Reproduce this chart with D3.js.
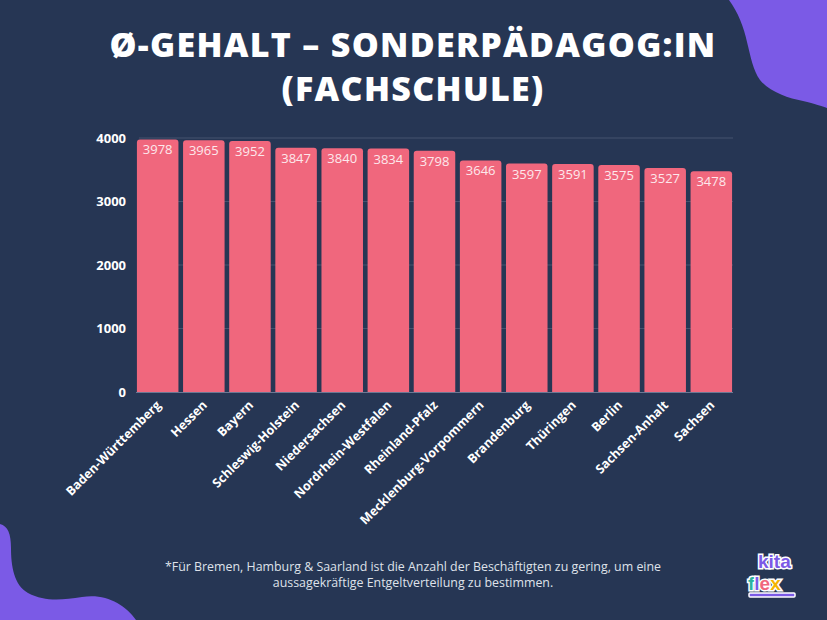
<!DOCTYPE html>
<html><head><meta charset="utf-8">
<script src="https://cdn.jsdelivr.net/npm/d3@7"></script>
<style>html,body{margin:0;padding:0;background:#263654;}svg{display:block}</style>
</head><body>
<svg id="chart" width="827" height="620"></svg>
<script>
const categories = ["Baden-Württemberg","Hessen","Bayern","Schleswig-Holstein","Niedersachsen","Nordrhein-Westfalen","Rheinland-Pfalz","Mecklenburg-Vorpommern","Brandenburg","Thüringen","Berlin","Sachsen-Anhalt","Sachsen"];
const values = [3978,3965,3952,3847,3840,3834,3798,3646,3597,3591,3575,3527,3478];
const yTicks = [0,1000,2000,3000,4000];
const titleLines = ["Ø-GEHALT – SONDERPÄDAGOG:IN","(FACHSCHULE)"];
const footnoteLines = ["*Für Bremen, Hamburg & Saarland ist die Anzahl der Beschäftigten zu gering, um eine","aussagekräftige Entgeltverteilung zu bestimmen."];

const W = 827, H = 620;
const svg = d3.select("#chart");
const bg = "#263654", purple = "#7b5ae6", barColor = "#f0677d";
svg.append("rect").attr("width", W).attr("height", H).attr("fill", bg);

// decorative blobs
svg.append("path").attr("fill", purple)
  .attr("d", "M729,0 C738,12 744,28 747,42 C751,58 753,70 760,80 C770,92 788,98 803,101 C815,104 822,106 827,108 L827,0 Z");
svg.append("path").attr("fill", purple)
  .attr("d", "M0,524 C8,526 11,534 11,548 C11,566 14,585 28,593 C45,602 62,600 82,597 C105,593 125,604 136,620 L0,620 Z");

// title
const titleFont = "'Open Sans', sans-serif";
svg.selectAll("text.title").data(titleLines).join("text")
  .attr("class","title")
  .attr("x", 413).attr("y", (d,i)=> 57 + i*44)
  .attr("text-anchor","middle")
  .attr("fill","#ffffff")
  .style("font-family", titleFont).style("font-weight", 800).style("font-size","34px")
  .style("letter-spacing","1.3px")
  .text(d=>d);

const m = {left:136, right:733, top:138, bottom:392};
const x = d3.scaleBand().domain(categories).range([m.left, m.right]).paddingInner(0.1).paddingOuter(0.02);
const y = d3.scaleLinear().domain([0,4000]).range([m.bottom, m.top]);

// gridlines
svg.append("g").selectAll("line").data(yTicks.filter(t=>t>0)).join("line")
  .attr("x1", m.left+3).attr("x2", m.right)
  .attr("y1", d=>y(d)).attr("y2", d=>y(d))
  .attr("stroke","#44536f").attr("stroke-width",1);

// bars with rounded top corners
const r = 3;
svg.append("g").selectAll("path").data(values).join("path")
  .attr("fill", barColor)
  .attr("d", (d,i)=>{
    const x0 = x(categories[i]), w = x.bandwidth(), y0 = y(d), yb = y(0);
    return `M${x0},${yb} L${x0},${y0+r} Q${x0},${y0} ${x0+r},${y0} L${x0+w-r},${y0} Q${x0+w},${y0} ${x0+w},${y0+r} L${x0+w},${yb} Z`;
  });

// baseline
svg.append("line").attr("x1", m.left).attr("x2", m.right)
  .attr("y1", y(0)+0.5).attr("y2", y(0)+0.5).attr("stroke","#6b7894").attr("stroke-width",1);

// value labels
svg.append("g").selectAll("text").data(values).join("text")
  .attr("x",(d,i)=>x(categories[i])+x.bandwidth()/2)
  .attr("y", d=>y(d)+15)
  .attr("text-anchor","middle")
  .attr("fill","#fde8ec")
  .style("font-family","'Open Sans', sans-serif").style("font-size","13px")
  .text(d=>d);

// y axis
const yAxis = d3.axisLeft(y).tickValues(yTicks).tickSize(0).tickPadding(10).tickFormat(d3.format("d"));
const gy = svg.append("g").attr("transform",`translate(${m.left},0)`).call(yAxis);
gy.select(".domain").remove();
gy.selectAll("text").attr("fill","#ffffff")
  .style("font-family","'Open Sans', sans-serif").style("font-weight",700).style("font-size","13px");

// x axis
const xAxis = d3.axisBottom(x).tickSize(0).tickPadding(0);
const gx = svg.append("g").attr("transform",`translate(0,${m.bottom})`).call(xAxis);
gx.select(".domain").remove();
gx.selectAll("text")
  .attr("fill","#ffffff")
  .attr("text-anchor","end")
  .attr("dy","0")
  .attr("transform","translate(4,14) rotate(-45)")
  .style("font-family","'Open Sans', sans-serif").style("font-weight",700).style("font-size","12.5px");

// footnote
svg.selectAll("text.foot").data(footnoteLines).join("text")
  .attr("class","foot")
  .attr("x", 413).attr("y",(d,i)=>571 + i*16)
  .attr("text-anchor","middle")
  .attr("fill","#dfe2ea")
  .style("font-family","'Open Sans', sans-serif").style("font-size","12.4px")
  .text(d=>d);

// logo
const logo = svg.append("g").attr("transform","translate(748,553)");
logo.append("rect").attr("x",1).attr("y",40).attr("width",46).attr("height",4).attr("rx",1)
  .attr("fill","#7b5ae6").attr("stroke","#fff").attr("stroke-width",1.5);
const logoText = (xx, yy) => logo.append("text").attr("x",xx).attr("y",yy)
  .attr("stroke","#fff").attr("stroke-width",3).attr("paint-order","stroke")
  .style("font-family","'Liberation Sans', sans-serif").style("font-weight",700).style("font-size","19px");
logoText(10, 15).attr("fill","#7b5ae6").text("kita");
const fl = logoText(0, 37);
[["f","#2bb3a0"],["l","#7b5ae6"],["e","#f0677d"],["x","#f5b400"]].forEach(([t,c])=>{
  fl.append("tspan").attr("fill",c).text(t);
});
</script>
</body></html>
